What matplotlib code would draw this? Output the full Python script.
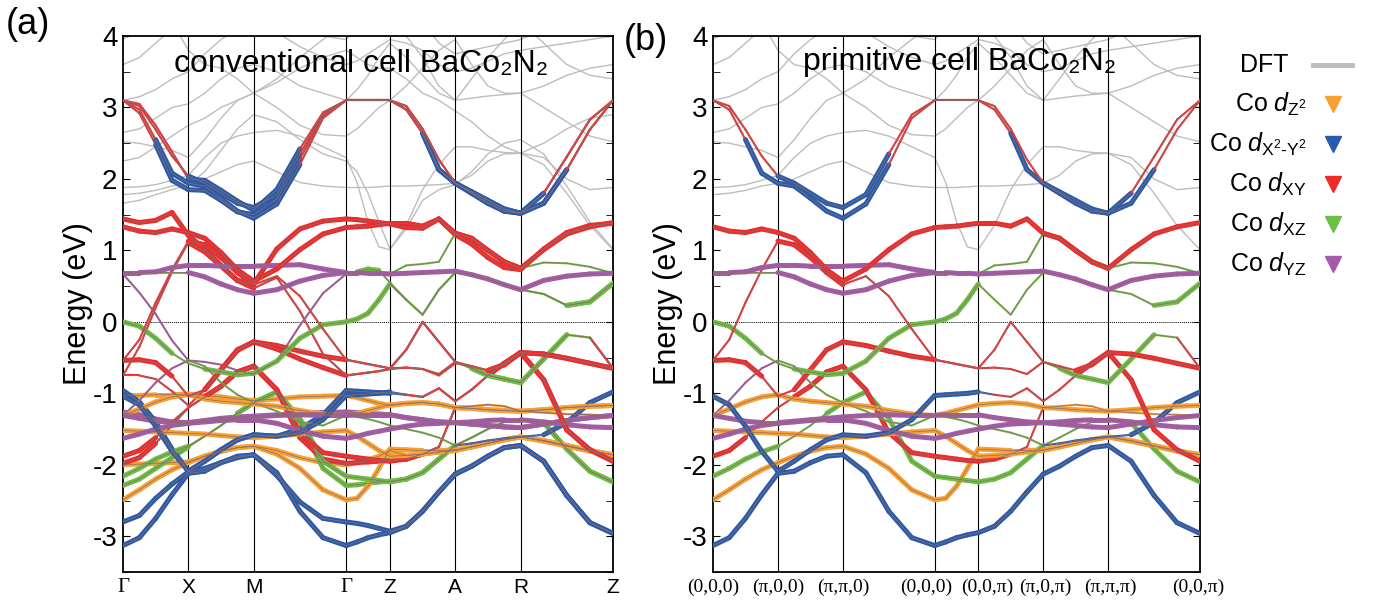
import numpy as np
import matplotlib
matplotlib.use("Agg")
import matplotlib.pyplot as plt
import matplotlib.transforms as mtransforms
from matplotlib.collections import LineCollection

plt.rcParams['font.family'] = ['Liberation Sans', 'DejaVu Sans']
plt.rcParams['axes.unicode_minus'] = False
plt.rcParams['mathtext.fontset'] = 'custom'
plt.rcParams['mathtext.rm'] = 'Liberation Sans'
plt.rcParams['mathtext.it'] = 'Liberation Sans:italic'

# k-path: segment lengths (G-X, X-M, M-G, G-Z, Z-A, A-R, R-Z), 4 samples per segment
seg_len = [1.0, 1.0, 1.414, 0.67, 1.0, 1.0, 1.414]
labels_a = ['Γ', 'X', 'M', 'Γ', 'Z', 'A', 'R', 'Z']
labels_b = ['(0,0,0)', '(π,0,0)', '(π,π,0)', '(0,0,0)', '(0,0,π)', '(π,0,π)', '(π,π,π)', '(0,0,π)']

# band energies (eV) at 29 k samples; colour code per interval:
# z=dz2 x=dx2-y2 y=dxy g=dxz p=dyz, upper case = heavy weight
U1 = [3.10, 2.97, 2.55, 2.08, 1.94, 1.90, 1.73, 1.55, 1.45, 1.65, 2.20, 2.85, 3.10, 3.10, 3.10, 3.10, 3.10,
      2.97, 2.64, 2.13, 1.94, 1.80, 1.66, 1.55, 1.52, 1.66, 2.13, 2.69, 3.10]
U2 = [3.10, 3.02, 2.69, 2.32, 2.04, 1.94, 1.80, 1.66, 1.60, 1.78, 2.35, 2.90, 3.10, 3.10, 3.10, 3.10, 3.10,
      3.02, 2.70, 2.27, 1.94, 1.82, 1.70, 1.58, 1.52, 1.80, 2.31, 2.83, 3.10]
R2a = [1.33, 1.27, 1.25, 1.30, 1.25, 1.17, 0.97, 0.73, 0.57, 0.74, 1.01, 1.23, 1.32, 1.33, 1.34, 1.36, 1.38,
       1.38, 1.34, 1.44, 1.24, 1.17, 1.00, 0.84, 0.75, 1.01, 1.23, 1.33, 1.39]
R2b = [-0.54, -0.25, 0.27, 0.73, 1.13, 1.08, 0.90, 0.69, 0.52, 0.64, 0.36, -0.10, -0.53, -0.56, -0.59, -0.62, -0.65,
       -0.64, -0.66, -0.73, -0.56, -0.62, -0.68, -0.60, -0.43, -0.45, -0.51, -0.58, -0.65]
P1 = [0.69, 0.69, 0.70, 0.76, 0.79, 0.79, 0.78, 0.78, 0.78, 0.79, 0.80, 0.74, 0.69, 0.69, 0.68, 0.68, 0.67,
      0.68, 0.69, 0.70, 0.71, 0.66, 0.60, 0.52, 0.45, 0.58, 0.64, 0.67, 0.68]
P2 = [0.69, 0.69, 0.69, 0.69, 0.69, 0.63, 0.53, 0.45, 0.40, 0.45, 0.57, 0.65, 0.69, 0.69, 0.68, 0.68, 0.67,
      0.79, 0.81, 0.84, 1.24, 1.17, 1.00, 0.84, 0.75, 0.83, 0.82, 0.77, 0.68]
G1 = [0.00, -0.06, -0.23, -0.44, -0.58, -0.66, -0.70, -0.74, -0.72, -0.55, -0.23, -0.04, 0.00, 0.04, 0.12, 0.31, 0.53,
      0.31, 0.10, 0.45, 0.69, 0.66, 0.60, 0.52, 0.45, 0.39, 0.23, 0.28, 0.54]
R1 = [-0.54, -0.53, -0.57, -0.76, -1.04, -0.95, -0.67, -0.39, -0.28, -0.33, -0.41, -0.48, -0.53, -0.56, -0.59, -0.62, -0.65,
      -0.39, 0.00, -0.28, -0.56, -0.65, -0.75, -0.80, -0.85, -0.52, -0.18, -0.22, -0.65]
B0 = [-3.13, -3.02, -2.75, -2.42, -2.12, -2.09, -1.97, -1.88, -1.86, -2.11, -2.65, -3.02, -3.13, -3.08, -3.02, -2.98, -2.95,
      -2.86, -2.65, -2.38, -2.13, -2.02, -1.88, -1.76, -1.73, -1.95, -2.43, -2.81, -2.96]
B2 = [-1.04, -1.16, -1.46, -1.81, -2.09, -1.95, -1.79, -1.65, -1.58, -1.60, -1.55, -1.37, -1.03, -1.02, -1.01, -1.00, -0.98,
      -1.02, -1.05, -0.93, -1.11, -0.95, -0.75, -0.58, -0.43, -0.81, -1.51, -1.79, -1.95]
O1 = [-1.31, -1.22, -1.12, -1.05, -1.02, -1.08, -1.11, -1.13, -1.15, -1.18, -1.24, -1.29, -1.31, -1.28, -1.24, -1.20, -1.16,
      -1.14, -1.13, -1.15, -1.20, -1.21, -1.23, -1.24, -1.25, -1.23, -1.20, -1.18, -1.17]
P3 = [-1.31, -1.35, -1.39, -1.41, -1.41, -1.39, -1.37, -1.35, -1.33, -1.31, -1.30, -1.31, -1.31, -1.30, -1.30, -1.30, -1.30,
      -1.34, -1.37, -1.40, -1.41, -1.43, -1.45, -1.47, -1.48, -1.43, -1.38, -1.34, -1.31]
P4 = [-1.63, -1.57, -1.50, -1.45, -1.42, -1.40, -1.38, -1.37, -1.37, -1.42, -1.52, -1.60, -1.63, -1.60, -1.56, -1.53, -1.50,
      -1.46, -1.43, -1.42, -1.41, -1.40, -1.38, -1.37, -1.37, -1.40, -1.44, -1.47, -1.48]
O2 = [-1.52, -1.53, -1.54, -1.55, -1.56, -1.57, -1.59, -1.61, -1.62, -1.60, -1.57, -1.54, -1.52, -1.60, -1.70, -1.80, -1.88,
      -1.87, -1.85, -1.82, -1.80, -1.75, -1.70, -1.65, -1.61, -1.66, -1.73, -1.80, -1.86]
R3 = [-1.88, -1.80, -1.62, -1.40, -1.20, -1.05, -0.90, -0.70, -0.62, -0.95, -1.55, -1.83, -1.88, -1.90, -1.92, -1.94, -1.95,
      -1.92, -1.85, -1.75, -1.20, -1.18, -1.16, -1.18, -1.25, -1.27, -1.29, -1.30, -1.31]
G2 = [-2.16, -2.05, -1.92, -1.82, -1.74, -1.60, -1.45, -1.28, -1.13, -0.98, -1.35, -1.95, -2.16, -2.18, -2.20, -2.22, -2.24,
      -2.20, -2.11, -1.92, -1.73, -1.62, -1.50, -1.40, -1.37, -1.41, -1.78, -2.09, -2.24]
O3 = [-2.49, -2.35, -2.20, -2.07, -1.97, -1.88, -1.81, -1.76, -1.74, -1.85, -2.05, -2.35, -2.49, -2.47, -2.30, -2.05, -1.78,
      -1.79, -1.80, -1.80, -1.79, -1.75, -1.70, -1.65, -1.61, -1.67, -1.74, -1.81, -1.86]
T1 = [-1.31, -1.10, -0.85, -0.65, -0.54, -0.62, -0.85, -1.02, -1.13, -1.25, -1.40, -1.45, -1.31, -1.33, -1.36, -1.40, -1.45,
      -1.50, -1.55, -1.62, -1.73, -1.70, -1.66, -1.63, -1.61, -1.58, -1.41, -1.13, -0.98]

cU1 = "yyXX XXXX XXyy yyyy yyXX XXXX XXyy"
cU2 = "yyyy XXXX XXyy yyyy yyyy XXXX Xyyy"
cR2a = "YYYY YYYY YYYY YYYY YYYY YYYY YYYY"
cR2b = "yyyy YYYY yyyy yyyy yyyy yyYY YYYY"
cP1 = "PPPP PPPP PPPP PPPP PPPP PPPP PPPP"
cP2 = "gggg PPPP PPPP pppp gggg YYYY gggg"
cG1 = "GGGg gGGG GGGG GGGG gggg pppp ggGG"
cR1 = "YYYy yYYY YYYY yyyy yyyy gGGG GGgy"
cB0 = "XXXX XXXX XXXX XXXX XXXX XXXX XXXX"
cB2 = "XXXX XXXX XXXX XXXX xyyy yyYY YYYY"
cO = "ZZZZ ZZZZ ZZZZ ZZZZ ZZZZ ZZZZ ZZZZ"
cR3 = "YYyy yYYY YYYY YYYY YYyy zzzz zzzz"
cG2 = "GGGG gggG GGGG GGGG GGGG gggg gGGG"
cT1 = "pppp gggg gggg gggg gggg xxxx xXXX"

# extra (folded) bands of the conventional cell
U3 = [3.10, 2.92, 2.48, 1.98, 1.85, 1.84, 1.70, 1.54, 1.50, 1.72, 2.28, 2.88, 3.10] + U1[13:]
U4 = [3.10, 3.05, 2.75, 2.38, 2.00, 1.98, 1.84, 1.69, 1.56, 1.85, 2.42, 2.93, 3.10] + U2[13:]
Ea1 = [1.44, 1.39, 1.42, 1.53, 1.21, 1.02, 0.79, 0.58, 0.53, 1.02, 1.30, 1.41, 1.44, 1.43, 1.41, 1.39, 1.37,
       1.32, 1.31, 1.44, 1.22, 1.09, 0.90, 0.76, 0.73, 1.02, 1.25, 1.35, 1.38]
Ea2 = [0.67, 0.41, 0.11, -0.26, -0.54, -0.56, -0.60, -0.68, -0.74, -0.55, -0.05, 0.40, 0.67, 0.70, 0.74, 0.72, 0.55,
       0.31, 0.10, 0.45, 0.69, 0.66, 0.60, 0.52, 0.45, 0.39, 0.23, 0.28, 0.54]
Ea3 = [-0.75, -0.35, 0.20, 0.70, 1.11, 0.98, 0.78, 0.58, 0.47, 0.62, 0.15, -0.45, -0.75, -0.73, -0.71, -0.69, -0.66,
       -0.64, -0.66, -0.75, -0.58, -0.62, -0.68, -0.60, -0.43, -0.45, -0.51, -0.58, -0.65]
Ea4 = [-0.75, -0.75, -0.80, -0.97, -1.17, -0.95, -0.67, -0.40, -0.28, -0.38, -0.52, -0.64, -0.75, -0.73, -0.71, -0.69, -0.66,
       -0.39, 0.00, -0.28, -0.56, -0.65, -0.75, -0.80, -0.85, -0.52, -0.18, -0.22, -0.65]
Ea5 = [-0.96, -1.12, -1.40, -1.78, -2.09, -1.95, -1.79, -1.65, -1.58, -1.60, -1.50, -1.30, -0.96, -0.97, -0.98, -0.99, -1.00] + B2[17:]
Ea6 = [-2.29, -2.20, -2.05, -1.90, -1.75, -1.60, -1.45, -1.28, -1.13, -0.98, -1.40, -2.05, -2.29, -2.28, -2.26, -2.24, -2.23] + G2[17:]
Ea7 = [-2.80, -2.71, -2.47, -2.27, -2.10, -2.05, -1.97, -1.90, -1.86, -2.15, -2.52, -2.75, -2.80, -2.82, -2.85, -2.89, -2.93] + B0[17:]
Ea8 = [-1.03, -1.03, -1.02, -1.02, -1.01, -1.03, -1.05, -1.08, -1.10, -1.08, -1.05, -1.04, -1.03, -1.06, -1.10, -1.14, -1.17] + O1[17:]
Ea9 = [-1.98, -1.90, -1.70, -1.45, -1.20, -1.05, -0.90, -0.70, -0.62, -0.95, -1.62, -1.92, -1.98, -1.97, -1.96, -1.95, -1.93] + R3[17:]
Ea10 = [-1.26, -1.30, -1.36, -1.40, -1.41, -1.38, -1.35, -1.33, -1.32, -1.30, -1.28, -1.27, -1.26, -1.27, -1.28, -1.29, -1.30] + P3[17:]
Ea12 = [-2.00, -1.99, -1.98, -1.97, -1.96, -1.88, -1.81, -1.76, -1.74, -1.80, -1.90, -1.97, -2.00, -1.97, -1.93, -1.88, -1.80] + O2[17:]

cEa2 = "pppp pppp pppp gGGg gggg pppp ggGG"
cEa3 = "yyyy YYYY yyyy yyyy yyyy yyYY YYYY"
cEa4 = "yyyy yYYY YYYY yyyy yyyy gGGG GGgy"

# DFT bands (grey)
gA = [1.78, 1.80, 1.84, 1.90, 1.94, 2.00, 2.10, 2.20, 2.25, 2.10, 1.95, 1.90, 1.88, 1.88, 1.88, 1.89, 1.90,
      1.90, 1.91, 1.92, 1.94, 2.05, 2.25, 2.35, 2.36, 2.30, 2.00, 1.85, 1.88]
gB = [1.88, 1.89, 1.92, 1.98, 2.05, 2.30, 2.50, 2.60, 2.65, 2.68, 2.60, 2.45, 2.30, 1.95, 1.40, 1.05, 1.01,
      1.35, 1.85, 2.20, 2.45, 2.45, 2.40, 2.37, 2.36, 2.20, 1.80, 1.35, 1.01]
gC = [2.52, 2.50, 2.45, 2.40, 2.30, 2.55, 2.85, 3.10, 3.20, 3.00, 2.75, 2.62, 2.60, 2.70, 2.85, 3.00, 3.10,
      3.30, 3.55, 3.80, 3.95, 3.60, 3.30, 3.20, 3.20, 3.00, 2.80, 2.60, 2.52]
gD = [2.65, 2.70, 2.85, 3.00, 3.05, 3.20, 3.40, 3.55, 3.60, 3.50, 3.30, 3.20, 3.10, 3.25, 3.45, 3.70, 3.90,
      3.70, 3.45, 3.20, 3.10, 3.13, 3.16, 3.18, 3.20, 3.30, 3.45, 3.55, 3.60]
gE = [3.10, 3.15, 3.25, 3.40, 3.50, 3.75, 3.95, 4.10, 4.20, 4.05, 3.85, 3.70, 3.60, 3.65, 3.75, 3.85, 3.95,
      3.90, 3.80, 3.60, 3.50, 3.55, 3.65, 3.75, 3.80, 3.85, 3.90, 3.95, 4.00]
gF = [3.60, 3.70, 3.90, 4.10, 4.20, 4.20, 4.20, 4.20, 4.20, 4.20, 4.10, 4.00, 3.95, 4.10, 4.20, 4.20, 4.20,
      4.20, 4.20, 3.90, 3.75, 3.80, 3.85, 3.90, 3.95, 4.10, 4.20, 4.20, 4.20]
gG = [3.95, 4.10, 4.20, 4.20, 3.80, 3.60, 3.55, 3.40, 3.20, 3.40, 3.70, 3.95, 4.20, 4.20, 4.20, 4.20, 4.20,
      4.00, 3.70, 3.30, 3.10, 3.40, 3.70, 3.95, 4.20, 3.90, 3.60, 3.45, 3.40]
gX1 = [1.66, 1.70, 1.78, 1.85, 1.92, 2.10, 2.40, 2.70, 2.90, 2.80, 2.55, 2.35, 2.25, 2.10, 1.80, 1.40, 1.02,
       1.30, 1.70, 1.85, 1.92, 2.10, 2.35, 2.50, 2.55, 2.35, 1.90, 1.40, 1.02]
gX2 = [2.25, 2.30, 2.45, 2.60, 2.75, 2.85, 3.00, 3.10, 3.20, 3.35, 3.55, 3.70, 3.80, 3.70, 3.60, 3.55, 3.55,
       3.40, 3.20, 3.10, 2.95, 2.80, 2.60, 2.45, 2.36, 2.50, 2.70, 2.85, 2.90]

bands_b = [(B0, cB0), (O3, cO), (G2, cG2), (R3, cR3), (O2, cO), (T1, cT1), (P4, cP1), (O1, cO), (P3, cP1),
           (B2, cB2), (R1, cR1), (G1, cG1), (R2b, cR2b), (P2, cP2), (P1, cP1), (R2a, cR2a), (U1, cU1), (U2, cU2)]
bands_a = [(Ea7, cB0), (Ea12, cO), (Ea6, cG2), (Ea9, cR3), (Ea8, cO), (Ea10, cP1), (Ea5, cB2),
           (Ea4, cEa4), (Ea3, cEa3), (Ea2, cEa2), (Ea1, cR2a), (U3, cU1), (U4, cU2)] + bands_b
dft_b = [gA, gB, gC, gD, gE, gF, gG]
dft_a = dft_b + [gX1, gX2]

colours = {'z': '#F7A033', 'x': '#2A5BAA', 'y': '#EE2B2B', 'g': '#6DBE45', 'p': '#A35BAA'}

nodes = np.concatenate([[0], np.cumsum(seg_len)])
kk = np.concatenate([np.linspace(nodes[i], nodes[i + 1], 5)[:-1] for i in range(7)] + [[nodes[-1]]])


def draw_panel(ax, bands, dft, labels, serif_all, shifts):
    for g in dft:
        ax.plot(kk, g, color='#BDBDBD', lw=1.0, zorder=1)
    for E, code in bands:
        code = code.replace(' ', '')
        segs = [[(kk[i], E[i]), (kk[i + 1], E[i + 1])] for i in range(len(code))]
        cols = [colours[c.lower()] for c in code]
        wid = [3.6 if c.isupper() else 1.5 for c in code]
        ax.add_collection(LineCollection(segs, colors=cols, linewidths=wid, capstyle='round', zorder=3))
    for E, code in bands:
        ax.plot(kk, E, color='#8E6B6B', lw=0.5, zorder=4)
    for x in nodes[1:-1]:
        ax.axvline(x, color='k', lw=0.8, zorder=2)
    ax.axhline(0, color='k', lw=0.7, ls=(0, (1, 1)), zorder=2)
    ax.set_xlim(0, nodes[-1])
    ax.set_ylim(-3.5, 4)
    ax.set_xticks([])
    trans = mtransforms.blended_transform_factory(ax.transData, ax.transAxes)
    for x, lab, dx in zip(nodes, labels, shifts):
        fam = 'Liberation Serif' if (serif_all or lab == 'Γ') else 'Liberation Sans'
        off = mtransforms.ScaledTranslation(dx / 100, 0, fig.dpi_scale_trans)
        ax.text(x, -0.012, lab, transform=trans + off, ha='center', va='top', fontsize=14 if serif_all else 15,
                fontfamily=fam)
    ax.set_yticks(range(-3, 5))
    ax.set_yticks(np.arange(-3.5, 4.01, 0.5), minor=True)
    ax.tick_params(axis='y', which='both', direction='in', left=True, right=True, length=5, labelsize=20, pad=4)
    ax.set_ylabel('Energy (eV)', fontsize=22, labelpad=0)
    for s in ax.spines.values():
        s.set_linewidth(1.3)


fig = plt.figure(figsize=(13.73, 6.04), dpi=100)
W, H = 1373, 604
ax_a = fig.add_axes([123 / W, 1 - 572 / H, 490 / W, 536 / H])
ax_b = fig.add_axes([713 / W, 1 - 572 / H, 487 / W, 536 / H])

draw_panel(ax_a, bands_a, dft_a, labels_a, False, [0] * 8)
draw_panel(ax_b, bands_b, dft_b, labels_b, True, [0, 0, 0, -9, 9, 2, 2, -2])

ax_a.text(0.486, 0.947, 'conventional cell BaCo₂N₂', transform=ax_a.transAxes, ha='center', va='center', fontsize=23)
ax_b.text(0.507, 0.952, 'primitive cell BaCo₂N₂', transform=ax_b.transAxes, ha='center', va='center', fontsize=23)

fig.text(6 / W, 1 - 25 / H, '(a)', fontsize=26, ha='left', va='center')
fig.text(624 / W, 1 - 40 / H, '(b)', fontsize=26, ha='left', va='center')

# legend
leg = fig.add_axes([0, 0, 1, 1])
leg.set_xlim(0, W)
leg.set_ylim(H, 0)
leg.axis('off')
leg.text(1288, 65, 'DFT', fontsize=18, ha='right', va='center')
leg.plot([1313, 1352], [65, 65], color='#BDBDBD', lw=3.5)
leg_names = [r'Co $d_{\mathrm{Z}^2}$', r'Co $d_{\mathrm{X}^2\text{-}\mathrm{Y}^2}$', r'Co $d_{\mathrm{XY}}$',
             r'Co $d_{\mathrm{XZ}}$', r'Co $d_{\mathrm{YZ}}$']
leg_keys = ['z', 'x', 'y', 'g', 'p']
for i, (name, key) in enumerate(zip(leg_names, leg_keys)):
    y = 104 + 40 * i
    leg.text(1307, y, name, fontsize=18, ha='right', va='center')
    leg.plot(1333, y, marker='v', color=colours[key], markersize=11, ls='none')

fig.savefig('out.png', dpi=100)
